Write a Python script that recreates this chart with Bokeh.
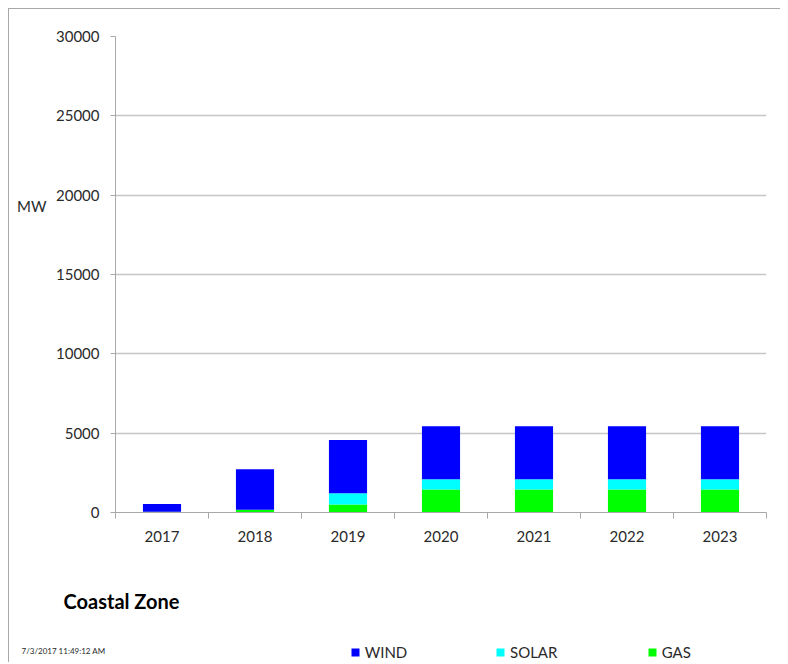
from bokeh.plotting import figure
from bokeh.models import (ColumnDataSource, Range1d, FixedTicker, Legend, LegendItem,
                          Label, LinearAxis, Div, Spacer)
from bokeh.layouts import column, row
from bokeh.embed import file_html
from bokeh.resources import INLINE

# ---------------- data ----------------
years = ["2017", "2018", "2019", "2020", "2021", "2022", "2023"]
gas = [40, 170, 510, 1445, 1445, 1445, 1445]
solar = [0, 0, 700, 655, 655, 655, 655]
wind = [490, 2550, 3355, 3335, 3335, 3335, 3335]
series = ["GAS", "SOLAR", "WIND"]
colors = ["#00ff00", "#00ffff", "#0000ff"]
legend_order = ["WIND", "SOLAR", "GAS"]
y_ticks = [0, 5000, 10000, 15000, 20000, 25000, 30000]
title_text = "Coastal Zone"
timestamp = "7/3/2017 11:49:12 AM"
y_unit = "MW"

# ---------------- style ----------------
FONT = "Lato"
TXT = "#2a2a2a"
GRID = "#c6c6c6"
AXIS = "#a8a8a8"
BORDER = "#a8a8a8"
INNER_W = 771          # content width inside the outer border
CHART_H = 551
BOT_H = 102
UNIT_POS = 19317       # height (in axis units) where the unit text sits

# ---------------- chart ----------------
x_pos = [i + 0.5 for i in range(len(years))]
src = ColumnDataSource(dict(x=x_pos, GAS=gas, SOLAR=solar, WIND=wind))

p = figure(width=INNER_W, height=CHART_H, output_backend="svg", toolbar_location=None,
           x_range=Range1d(0, len(years)), y_range=Range1d(0, 30000),
           min_border_left=106, min_border_right=14, min_border_top=27,
           min_border_bottom=48)
p.outline_line_color = None

renderers = p.vbar_stack(series, x="x", width=0.41, source=src,
                         color=colors, line_color=None)

xa = p.xaxis[0]
xa.ticker = FixedTicker(ticks=x_pos, minor_ticks=list(range(len(years) + 1)))
xa.major_label_overrides = {x: y for x, y in zip(x_pos, years)}
xa.major_tick_line_color = None
xa.minor_tick_in = 0
xa.minor_tick_out = 6
xa.minor_tick_line_color = AXIS
xa.axis_line_color = AXIS
xa.major_label_standoff = 12
xa.major_label_text_font = FONT
xa.major_label_text_font_size = "15px"
xa.major_label_text_color = TXT
p.xgrid.visible = False

ya = p.yaxis[0]
ya.ticker = FixedTicker(ticks=y_ticks)
ya.major_tick_in = 0
ya.major_tick_out = 5
ya.major_tick_line_color = AXIS
ya.minor_tick_line_color = None
ya.axis_line_color = AXIS
ya.major_label_standoff = 11
ya.major_label_text_font = FONT
ya.major_label_text_font_size = "15px"
ya.major_label_text_color = TXT
p.ygrid.grid_line_color = GRID
p.ygrid.grid_line_width = 1.5

# unit text "MW" as an outer left axis with a single labelled position
unit_axis = LinearAxis(ticker=FixedTicker(ticks=[UNIT_POS]),
                       major_label_overrides={UNIT_POS: y_unit},
                       axis_line_color=None, major_tick_line_color=None,
                       minor_tick_line_color=None, major_tick_in=0, major_tick_out=0,
                       minor_tick_in=0, minor_tick_out=0, major_label_standoff=7,
                       major_label_text_font=FONT, major_label_text_font_size="15px",
                       major_label_text_color=TXT)
p.add_layout(unit_axis, "left")

# ---------------- bottom strip (page y 560..662, x 9..780) ----------------
fig_bot = figure(width=INNER_W, height=BOT_H, x_range=Range1d(9, 9 + INNER_W),
                 y_range=Range1d(662, 560), x_axis_type=None, y_axis_type=None,
                 min_border=0, toolbar_location=None, output_backend="svg")
fig_bot.outline_line_color = None
fig_bot.add_layout(Label(x=63, y=600, text=title_text, text_font=FONT,
                         text_font_size="20px", text_font_style="bold",
                         text_color="#000000", text_baseline="middle"))
fig_bot.add_layout(Label(x=21, y=650, text=timestamp, text_font=FONT,
                         text_font_size="8px", text_color=TXT, text_baseline="middle"))

color_of = dict(zip(series, colors))
legend_x = {"WIND": 335.7, "SOLAR": 481.0, "GAS": 632.7}
for name in legend_order:
    r = fig_bot.scatter(x=[float("nan")], y=[float("nan")], marker="square",
                        color=color_of[name], line_color=None)
    lg = Legend(items=[LegendItem(label=name, renderers=[r])],
                location=(legend_x[name], 0), orientation="horizontal",
                padding=0, margin=0, glyph_width=20, glyph_height=20,
                label_height=20, label_standoff=0, spacing=0,
                border_line_color=None, background_fill_alpha=0,
                label_text_font=FONT, label_text_font_size="15px",
                label_text_color=TXT)
    fig_bot.add_layout(lg, "center")

# ---------------- outer frame lines ----------------
vline = Div(text="", width=1, height=1 + CHART_H + BOT_H, margin=0,
            styles={"background-color": BORDER})
hline = Div(text="", width=INNER_W, height=1, margin=0,
            styles={"background-color": BORDER})

layout = column(Spacer(height=8, margin=0),
                row(Spacer(width=8, margin=0), vline,
                    column(hline, row(p), fig_bot)))
open("out.html", "w").write(file_html(layout, INLINE))
